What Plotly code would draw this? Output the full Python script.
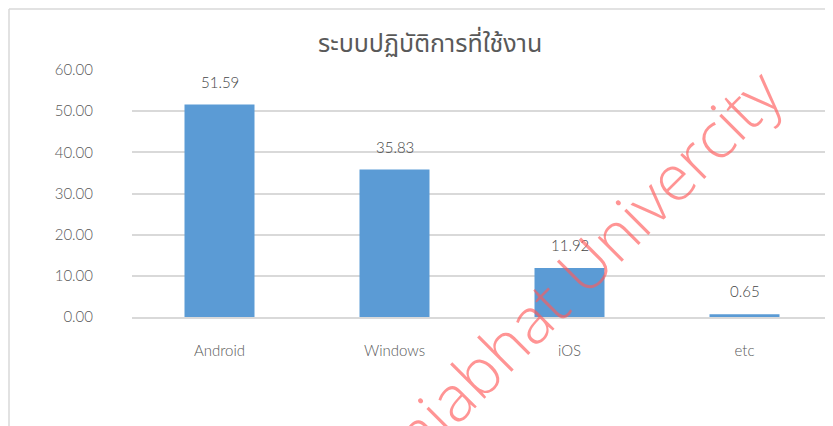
import plotly.graph_objects as go

categories = ["Android", "Windows", "iOS", "etc"]
values = [51.59, 35.83, 11.92, 0.65]
y_ticks = [0, 10, 20, 30, 40, 50, 60]
title_text = "ระบบปฏิบัติการที่ใช้งาน"
watermark_text = "Rajabhat Univercity"

W, H = 833, 426
OFF = 8  # default page body margin
L, R, T, B = 132 - OFF, 9, 70 - OFF, 117
pw, ph = W - L - R, H - T - B

def px(sx):
    return (sx - OFF - L) / pw

def py(sy):
    return (H - B - (sy - OFF)) / ph

FONT = "Lato, Open Sans, sans-serif"

fig = go.Figure()
fig.add_trace(go.Bar(
    x=categories, y=values, width=0.4,
    marker=dict(color="#5B9BD5", line=dict(width=0)),
    hoverinfo="skip",
))

for c, v in zip(categories, values):
    fig.add_annotation(x=c, y=v, xref="x", yref="y", text=f"{v:.2f}",
                       showarrow=False, yanchor="bottom", yshift=12,
                       font=dict(family=FONT, size=15, color="#454545", weight=300))

fig.add_annotation(text=title_text, xref="paper", yref="paper",
                   x=px(430), y=py(44), showarrow=False, xanchor="center", yanchor="middle",
                   font=dict(family="Noto Sans Thai, Noto Sans, DejaVu Sans, sans-serif", size=25, color="#595959"))

fig.add_annotation(text=watermark_text, xref="paper", yref="paper",
                   x=px(573), y=py(275), showarrow=False, xanchor="center", yanchor="middle",
                   textangle=-45,
                   font=dict(family="Open Sans, sans-serif", size=64, color="rgba(255,90,90,0.65)", weight=300))

# frame lines
fig.add_shape(type="line", xref="paper", yref="paper",
              x0=px(9), x1=px(9), y0=py(434), y1=py(9),
              line=dict(color="#D9D9D9", width=1.5), layer="below")
fig.add_shape(type="line", xref="paper", yref="paper",
              x0=px(9), x1=px(841), y0=py(9), y1=py(9),
              line=dict(color="#D9D9D9", width=1.5), layer="below")

fig.update_layout(
    width=W, height=H,
    margin=dict(l=L, r=R, t=T, b=B, autoexpand=False),
    paper_bgcolor="white", plot_bgcolor="white",
    showlegend=False,
    bargap=0.6,
)
fig.update_xaxes(
    showgrid=False, showline=True, linecolor="#D9D9D9", linewidth=1.5,
    ticks="", ticklabelstandoff=19, automargin=False,
    tickfont=dict(family=FONT, size=15, color="#595959", weight=300),
)
fig.update_yaxes(
    range=[0, 60], tickvals=y_ticks, tickformat=".2f",
    showgrid=True, gridcolor="#D9D9D9", gridwidth=1.5, zeroline=False,
    showline=False, ticks="", ticklabelstandoff=38, automargin=False,
    tickfont=dict(family=FONT, size=15, color="#595959", weight=300),
)

fig.write_html("out.html")
